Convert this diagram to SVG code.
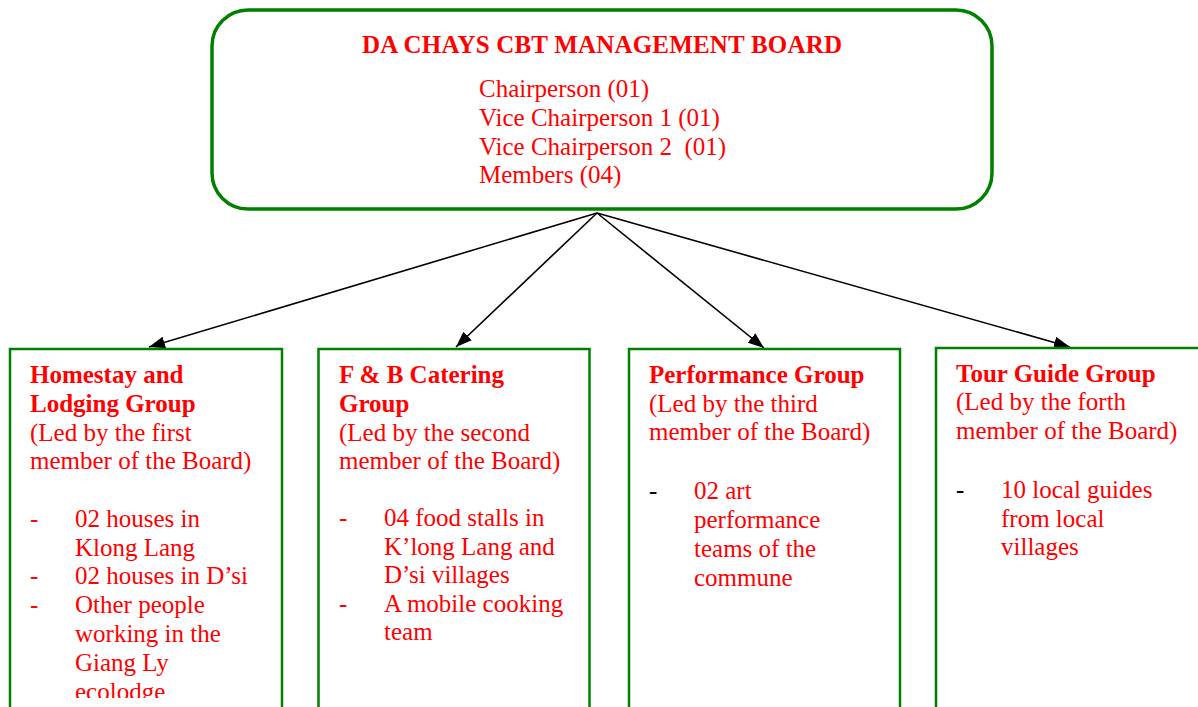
<svg xmlns="http://www.w3.org/2000/svg" width="1198" height="707" viewBox="0 0 1198 707">
<style>
text{font-family:"Liberation Serif","Times New Roman",serif;font-size:25px;fill:#ff0000}
.b{font-weight:bold}
.k{fill:#000}
.pre{white-space:pre}
.box{fill:#fff;stroke:#008000;stroke-width:2.5}
.conn line{stroke:#000;stroke-width:1.6}
</style>
<defs>
<marker id="ah2" viewBox="0 0 16 12" refX="16" refY="6" markerWidth="16" markerHeight="12" markerUnits="userSpaceOnUse" orient="auto">
<path d="M0,0 L16,6 L0,12 z" fill="#000"/>
</marker>
<clipPath id="clip1"><rect x="0" y="340" width="300" height="358"/></clipPath>
</defs>
<rect width="1198" height="707" fill="#fff"/>
<g id="board">
<rect x="212" y="10" width="780" height="199" rx="36" ry="36" fill="#fff" stroke="#008000" stroke-width="3.5"/>
<text x="362" y="53" class="b" textLength="480" lengthAdjust="spacing">DA CHAYS CBT MANAGEMENT BOARD</text>
<text x="479" y="97">Chairperson (01)</text>
<text x="479" y="126">Vice Chairperson 1 (01)</text>
<text x="479" y="155" class="pre" xml:space="preserve">Vice Chairperson 2  (01)</text>
<text x="479" y="183">Members (04)</text>
</g>
<g id="connectors" class="conn">
<line x1="597" y1="213" x2="149" y2="347" marker-end="url(#ah2)"/>
<line x1="597" y1="213" x2="456" y2="347" marker-end="url(#ah2)"/>
<line x1="597" y1="213" x2="764" y2="348" marker-end="url(#ah2)"/>
<line x1="597" y1="213" x2="1070" y2="347" marker-end="url(#ah2)"/>
</g>
<g id="homestay">
<rect class="box" x="10" y="349" width="272" height="370"/>
<g clip-path="url(#clip1)">
<text x="30" y="383" class="b">Homestay and</text>
<text x="30" y="412" class="b">Lodging Group</text>
<text x="30" y="441">(Led by the first</text>
<text x="30" y="469">member of the Board)</text>
<text x="30" y="527">-</text><text x="75" y="527">02 houses in</text>
<text x="75" y="556">Klong Lang</text>
<text x="30" y="584">-</text><text x="75" y="584">02 houses in D’si</text>
<text x="30" y="613">-</text><text x="75" y="613">Other people</text>
<text x="75" y="642">working in the</text>
<text x="75" y="671">Giang Ly</text>
<text x="75" y="699.5">ecolodge</text>
</g>
</g>
<g id="catering">
<rect class="box" x="318.5" y="349" width="271" height="370"/>
<text x="339" y="383" class="b">F &amp; B Catering</text>
<text x="339" y="412" class="b">Group</text>
<text x="339" y="441">(Led by the second</text>
<text x="339" y="469">member of the Board)</text>
<text x="339" y="526">-</text><text x="384" y="526">04 food stalls in</text>
<text x="384" y="555">K’long Lang and</text>
<text x="384" y="583">D’si villages</text>
<text x="339" y="612">-</text><text x="384" y="612">A mobile cooking</text>
<text x="384" y="640">team</text>
</g>
<g id="performance">
<rect class="box" x="629" y="349" width="271" height="370"/>
<text x="649" y="383" class="b">Performance Group</text>
<text x="649" y="412">(Led by the third</text>
<text x="649" y="440">member of the Board)</text>
<text x="649" y="499" class="k">-</text><text x="694" y="499">02 art</text>
<text x="694" y="528">performance</text>
<text x="694" y="557">teams of the</text>
<text x="694" y="586">commune</text>
</g>
<g id="tourguide">
<rect class="box" x="936" y="348" width="300" height="370"/>
<text x="956" y="382" class="b">Tour Guide Group</text>
<text x="956" y="410">(Led by the forth</text>
<text x="956" y="439">member of the Board)</text>
<text x="956" y="498" class="k">-</text><text x="1001" y="498">10 local guides</text>
<text x="1001" y="527">from local</text>
<text x="1001" y="555">villages</text>
</g>
</svg>
